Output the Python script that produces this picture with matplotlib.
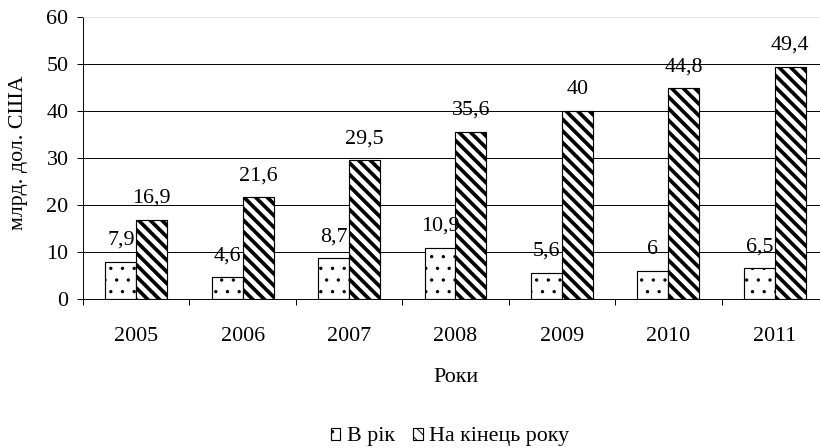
import matplotlib
matplotlib.use("Agg")
import matplotlib.pyplot as plt
import numpy as np

# Data
years = ["2005", "2006", "2007", "2008", "2009", "2010", "2011"]
per_year = [7.9, 4.6, 8.7, 10.9, 5.6, 6.0, 6.5]
end_of_year = [16.9, 21.6, 29.5, 35.6, 40.0, 44.8, 49.4]
series_names = ["В рік", "На кінець року"]
y_ticks = [0, 10, 20, 30, 40, 50, 60]

DPI = 70
W, H = 820, 448
plt.rcParams["font.family"] = ["Liberation Serif", "DejaVu Serif"]
FS = 22.7

fig = plt.figure(figsize=(W / DPI, H / DPI), dpi=DPI)
# axes box in pixels: left 83, bottom 299, top 17, right 828 (runs past the edge)
ax = fig.add_axes([83 / W, (H - 299) / H, (828 - 83) / W, (299 - 17) / H])

x = np.arange(len(years))
bw = 0.29

b1 = ax.bar(x - bw / 2, per_year, bw, facecolor="white", edgecolor="black",
            linewidth=1.2, hatch=".", zorder=3, label=series_names[0])
b2 = ax.bar(x + bw / 2, end_of_year, bw, facecolor="white", edgecolor="black",
            linewidth=1.2, hatch="\\\\", zorder=3, label=series_names[1])
for p in b1:
    if hasattr(p, "set_hatch_linewidth"):
        p.set_hatch_linewidth(1.0)
for p in b2:
    if hasattr(p, "set_hatch_linewidth"):
        p.set_hatch_linewidth(3.8)


def fmt(v):
    return f"{v:g}".replace(".", ",")


for bars, vals in ((b1, per_year), (b2, end_of_year)):
    for rect, v in zip(bars, vals):
        ax.annotate(fmt(v), (rect.get_x() + rect.get_width() / 2, v),
                    xytext=(0, 17.5), textcoords="offset points",
                    ha="center", va="baseline", fontsize=FS)

ax.set_xlim(-0.5, len(years) - 0.5)
ax.set_ylim(0, 60)
ax.set_yticks(y_ticks)
ax.set_yticklabels([str(t) for t in y_ticks], fontsize=FS)
ax.set_xticks(x)
ax.set_xticklabels(years, fontsize=FS)
ax.set_xticks(np.arange(len(years) + 1) - 0.5, minor=True)

ax.tick_params(axis="x", which="major", length=0, pad=29)
ax.tick_params(axis="x", which="minor", length=6, width=1, direction="out")
ax.tick_params(axis="y", length=6, width=1, direction="out", pad=9)

for yv in y_ticks[1:-1]:
    ax.axhline(yv, color="black", linewidth=1.0, zorder=1)

ax.spines["right"].set_visible(False)
ax.spines["top"].set_color("#e2e2e2")
ax.spines["left"].set_linewidth(1.0)
ax.spines["bottom"].set_linewidth(1.0)

ax.set_ylabel("млрд. дол. США", fontsize=FS, va="center")
ax.yaxis.set_label_coords(-0.087, 0.52)
ax.set_xlabel("Роки", fontsize=FS)
ax.xaxis.set_label_coords(0.5, (299 - 377) / 282)
ax.xaxis.label.set_va("center")

fig.legend(handles=[b1, b2], labels=series_names, loc="center",
           bbox_to_anchor=(450 / W, 1 - 437 / H), ncol=2, frameon=False,
           fontsize=FS, handlelength=0.45, handleheight=0.45,
           handletextpad=0.3, columnspacing=0.8)

fig.savefig("out.png", dpi=DPI)
